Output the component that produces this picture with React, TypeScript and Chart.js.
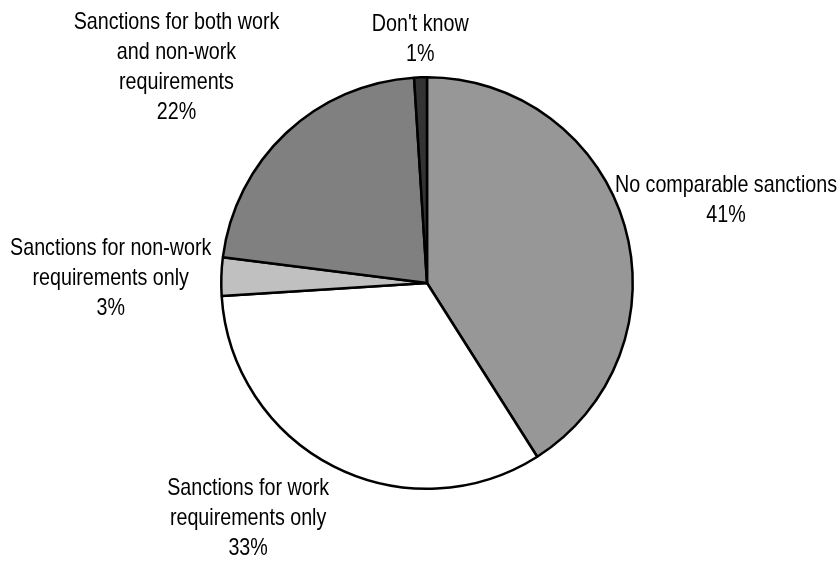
import React, { useEffect, useRef } from "react";
import { Chart, registerables } from "chart.js";

Chart.register(...registerables);

const categories: string[] = [
  "No comparable sanctions",
  "Sanctions for work\nrequirements only",
  "Sanctions for non-work\nrequirements only",
  "Sanctions for both work\nand non-work\nrequirements",
  "Don't know",
];
const values: number[] = [41, 33, 3, 22, 1];
const sliceColors: string[] = ["#979797", "#FFFFFF", "#C0C0C0", "#808080", "#333333"];

const FONT = '24px "Liberation Sans", Arial, sans-serif';
const NARROW = 0.82;
const LINE_H = 30;
const LABEL_GAP = 10;
const EDGE = 3;

const outLabels = {
  id: "outLabels",
  afterDatasetsDraw(chart: any) {
    const ctx = chart.ctx as CanvasRenderingContext2D;
    const meta = chart.getDatasetMeta(0);
    ctx.save();
    ctx.font = FONT;
    ctx.fillStyle = "#000000";
    ctx.textAlign = "center";
    ctx.textBaseline = "middle";
    const clamp = (v: number, a: number, b: number) => Math.max(a, Math.min(b, v));
    const f = (d: number) => Math.sign(d) * clamp((Math.abs(d) - 0.05) * 3.5, 0, 1);
    meta.data.forEach((arc: any, i: number) => {
      const { x, y, startAngle, endAngle, outerRadius } = arc.getProps(
        ["x", "y", "startAngle", "endAngle", "outerRadius"],
        true
      );
      const mid = (startAngle + endAngle) / 2;
      const dx = Math.cos(mid);
      const dy = Math.sin(mid);
      const lines = [...categories[i].split("\n"), `${values[i]}%`];
      const w = Math.max(...lines.map((l) => ctx.measureText(l).width)) * NARROW;
      const h = lines.length * LINE_H;
      const ax = x + dx * (outerRadius + LABEL_GAP);
      const ay = y + dy * (outerRadius + LABEL_GAP);
      let cx = ax + (f(dx) * w) / 2;
      let cy = ay + (f(dy) * h) / 2;
      cx = clamp(cx, w / 2 + EDGE, chart.width - w / 2 - EDGE);
      cy = clamp(cy, h / 2 + EDGE, chart.height - h / 2 - EDGE);
      lines.forEach((l, j) => {
        ctx.save();
        ctx.translate(cx, cy - h / 2 + LINE_H * (j + 0.5) + 2);
        ctx.scale(NARROW, 1);
        ctx.fillText(l, 0, 0);
        ctx.restore();
      });
    });
    ctx.restore();
  },
};

export default function App() {
  const ref = useRef<HTMLCanvasElement | null>(null);
  useEffect(() => {
    document.body.style.margin = "0";
    if (!ref.current) return;
    const chart = new Chart(ref.current, {
      type: "pie",
      data: {
        labels: categories.map((c) => c.replace(/\n/g, " ")),
        datasets: [
          {
            data: values,
            backgroundColor: sliceColors,
            borderColor: "#000000",
            borderWidth: 2.5,
          },
        ],
      },
      options: {
        responsive: false,
        animation: false,
        layout: { padding: { left: 220, right: 206, top: 76, bottom: 74 } },
        plugins: {
          legend: { display: false },
          tooltip: { enabled: false },
        },
      },
      plugins: [outLabels],
    });
    return () => chart.destroy();
  }, []);
  return (
    <div style={{ width: 840, height: 564, background: "#fff" }}>
      <canvas ref={ref} width={840} height={564} style={{ display: "block" }} />
    </div>
  );
}
